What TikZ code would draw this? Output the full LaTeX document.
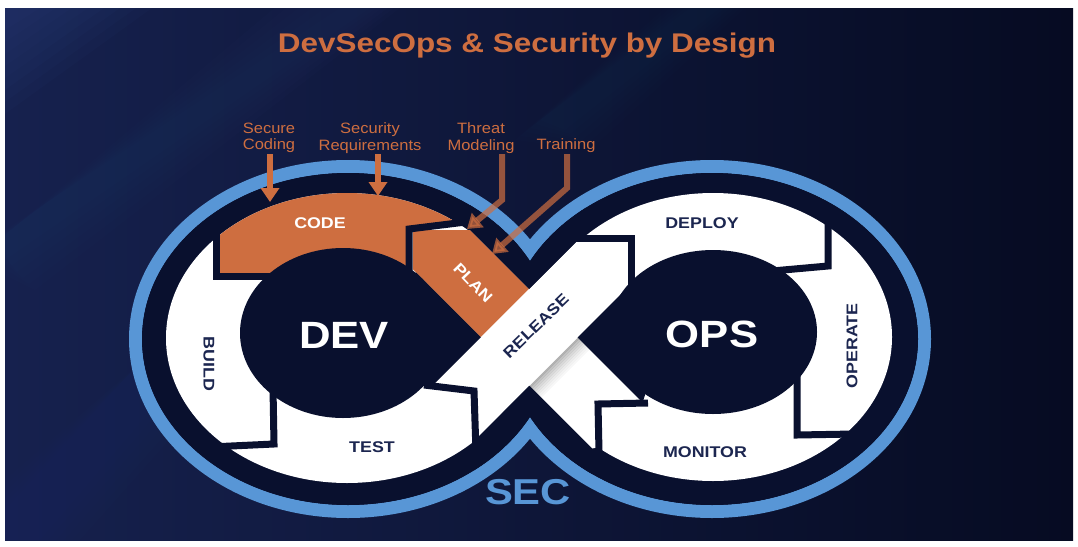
\documentclass[tikz,border=0pt]{standalone}
\usepackage{fontspec}
\setmainfont{Liberation Sans}
\usepackage{graphicx}
\usetikzlibrary{arrows.meta}
\definecolor{bgA}{RGB}{22,33,78}
\definecolor{bgB}{RGB}{6,11,34}
\definecolor{glowc}{RGB}{70,95,170}
\definecolor{navy}{RGB}{9,16,46}
\definecolor{ringblue}{RGB}{88,150,214}
\definecolor{orng}{RGB}{206,110,64}
\definecolor{segtext}{RGB}{28,38,80}
\newcommand{\stretchtxt}[2][1.15]{\scalebox{#1}[1]{#2}}
\tikzset{
  sepline/.style={draw=navy, line width=7pt, line join=miter, line cap=butt},
  seglbl/.style={font=\fontsize{15.5}{16}\selectfont\bfseries, text=segtext, inner sep=0pt},
  seglblw/.style={seglbl, text=white},
  biglbl/.style={font=\fontsize{38}{40}\selectfont\bfseries, text=white, inner sep=0pt},
  annlbl/.style={font=\fontsize{15}{16.5}\selectfont, text=orng, align=center, inner sep=0pt},
  annarr/.style={draw=orng, line width=6pt, line join=miter, -{Triangle[width=18pt,length=14pt]}},
  annarrdim/.style={annarr, draw opacity=0.7, fill opacity=0.7},
}
\begin{document}
\begin{tikzpicture}[x=1pt,y=-1pt]
\useasboundingbox (0,0) rectangle (1078,546);
% background
\fill[white] (0,0) rectangle (1078,546);
\shade[left color=bgA, right color=bgB] (5,8) rectangle (1073,540);
\begin{scope}
  \clip (5,8) rectangle (1073,540);
  \foreach \i in {0,...,7} {
    \fill[glowc, opacity=0.035] (5,8) -- ({40+\i*16},8) -- (5,{30+\i*12}) -- cycle;
  }
  \foreach \i in {0,...,5} {
    \fill[glowc, opacity=0.018] ({5-\i*6},{230+\i*6}) -- ({340-\i*6},{8-\i*6}) -- ({370+\i*6},8) -- ({5+\i*6},{260+\i*6}) -- cycle;
    \fill[glowc, opacity=0.015] ({540-\i*5},{120+\i*4}) -- ({690-\i*5},8) -- ({720+\i*5},8) -- ({565+\i*5},{130+\i*4}) -- cycle;
    \fill[glowc, opacity=0.015] ({5},{480+\i*6}) -- ({190-\i*6},{320+\i*4}) -- ({215+\i*6},{335+\i*4}) -- ({40+\i*8},540) -- (5,540) -- cycle;
  }
\end{scope}
% blue infinity outline
\draw[ringblue, line width=13pt] (348,339) ellipse [x radius=212.5pt, y radius=172.5pt];
\draw[ringblue, line width=13pt] (712,339) ellipse [x radius=212.5pt, y radius=172.5pt];
\fill[navy] (348,339) ellipse [x radius=206pt, y radius=166pt];
\fill[navy] (712,339) ellipse [x radius=206pt, y radius=166pt];
% white rings
\fill[white] (347,338) ellipse [x radius=181pt, y radius=145pt];
\fill[white] (713,337) ellipse [x radius=179pt, y radius=144pt];
% CODE segment
\begin{scope}
  \clip (347,338) ellipse [x radius=181pt, y radius=145pt];
  \fill[orng] (216,150) -- (474,150) -- (474,221) -- (409,229) -- (409,276) -- (216,276) -- cycle;
\end{scope}
% ribbon 1 (MONITOR -> PLAN), lower
\fill[white] (413,230) -- (470,230) -- (645,405) -- (645,425) -- (600,447) -- (592,448.5) -- (413,269.5) -- cycle;
\fill[orng] (413,230) -- (470,230) -- (529,289) -- (480.75,337.25) -- (413,269.5) -- cycle;
% shadow under RELEASE
\foreach \k/\o in {0/0.30,3/0.24,6/0.19,9/0.15,12/0.11,15/0.08,18/0.05,21/0.03} {
  \fill[black, opacity=\o] ({(915+\k+143.5)/2},{(915+\k-143.5)/2}) -- ({(915+\k+240)/2},{(915+\k-240)/2})
     -- ({(918+\k+240)/2},{(918+\k-240)/2}) -- ({(918+\k+143.5)/2},{(918+\k-143.5)/2}) -- cycle;
}
% ribbon 2 (TEST -> RELEASE -> DEPLOY), upper
\fill[white] (422,396) -- (578,240) -- (629,240) -- (629,286) -- (474,441) -- (440,441) -- cycle;
% inner dark circles
\fill[navy] (343,333) ellipse [x radius=103pt, y radius=85pt];
\fill[navy] (713,332) ellipse [x radius=104pt, y radius=82pt];
% wedges between ribbons
\fill[navy] (480.75,337.25) -- (416,272.5) -- (405,300) -- (405,380) -- (430,388) -- cycle;
\fill[navy] (577.5,337.5) -- (630,285) -- (645,300) -- (645,395) -- (642.5,402.5) -- cycle;
\begin{scope}
  \clip (348,339) ellipse [x radius=206pt, y radius=166pt] (712,339) ellipse [x radius=206pt, y radius=166pt];
  \fill[navy] (529,289) -- (470,230) -- (470,190) -- (590,190) -- (578,240) -- cycle;
  \fill[navy] (529.25,385.75) -- (474,441) -- (474,495) -- (592,495) -- (592,448.5) -- cycle;
\end{scope}
% separators
\draw[sepline] (216,222) -- (216,276) -- (278,276);
\draw[sepline] (273,388) -- (274,444) -- (210,447);
\draw[sepline] (424,385) -- (474,391) -- (476,452);
\draw[sepline] (572,238) -- (631,238) -- (631,292);
\draw[sepline] (828,212) -- (828,266) -- (772,271);
\draw[sepline] (797,372) -- (797,435) -- (854,434);
\draw[sepline] (648,403) -- (598,404) -- (599,452);
\draw[sepline] (474,221) -- (409,229) -- (409,270);
% title
\node[font=\fontsize{27}{30}\selectfont\bfseries, text=orng, inner sep=0pt, anchor=base] (title) at (527,52) {\stretchtxt[1.165]{DevSecOps \& Security by Design}};
% segment labels
\node[seglblw] (code) at (320,223) {\stretchtxt{CODE}};
\node[seglblw, rotate=-46] (plan) at (473,283) {\stretchtxt{PLAN}};
\node[seglbl, rotate=44] (release) at (536,326) {\stretchtxt{RELEASE}};
\node[seglbl] (deploy) at (702,223) {\stretchtxt{DEPLOY}};
\node[seglbl, rotate=90] (operate) at (852,346) {\stretchtxt{OPERATE}};
\node[seglbl] (monitor) at (705,452) {\stretchtxt{MONITOR}};
\node[seglbl] (test) at (372,447) {\stretchtxt{TEST}};
\node[seglbl, rotate=-90] (build) at (209,364) {\stretchtxt{BUILD}};
\node[biglbl] (dev) at (344,335) {\stretchtxt{DEV}};
\node[biglbl] (ops) at (712,334) {\stretchtxt{OPS}};
\node[font=\fontsize{36}{38}\selectfont\bfseries, text=ringblue, inner sep=0pt] (sec) at (528,492) {\stretchtxt[1.16]{SEC}};
% annotations
\node[annlbl, anchor=north] (lsc) at (269,122.5) {\stretchtxt[1.1]{Secure}\\\stretchtxt[1.1]{Coding}};
\node[annlbl, anchor=north] (lsr) at (370,122.5) {\stretchtxt[1.1]{Security}\\\stretchtxt[1.1]{Requirements}};
\node[annlbl, anchor=north] (ltm) at (481,122.5) {\stretchtxt[1.1]{Threat}\\\stretchtxt[1.1]{Modeling}};
\node[annlbl, anchor=base] (ltr) at (566,149) {\stretchtxt[1.1]{Training}};
\coordinate (a1s) at (270,154);
\coordinate (a1e) at (270,202);
\coordinate (a2s) at (378,154);
\coordinate (a2e) at (378,196);
\coordinate (a3s) at (502,154);
\coordinate (a3m) at (502,200);
\coordinate (a3e) at (467,229);
\coordinate (a4s) at (567,154);
\coordinate (a4m) at (567,188);
\coordinate (a4e) at (492,254);
\draw[annarr] (a1s) -- (a1e);
\draw[annarr] (a2s) -- (a2e);
\draw[annarrdim] (a3s) -- (a3m) -- (a3e);
\draw[annarrdim] (a4s) -- (a4m) -- (a4e);
\end{tikzpicture}
\end{document}
